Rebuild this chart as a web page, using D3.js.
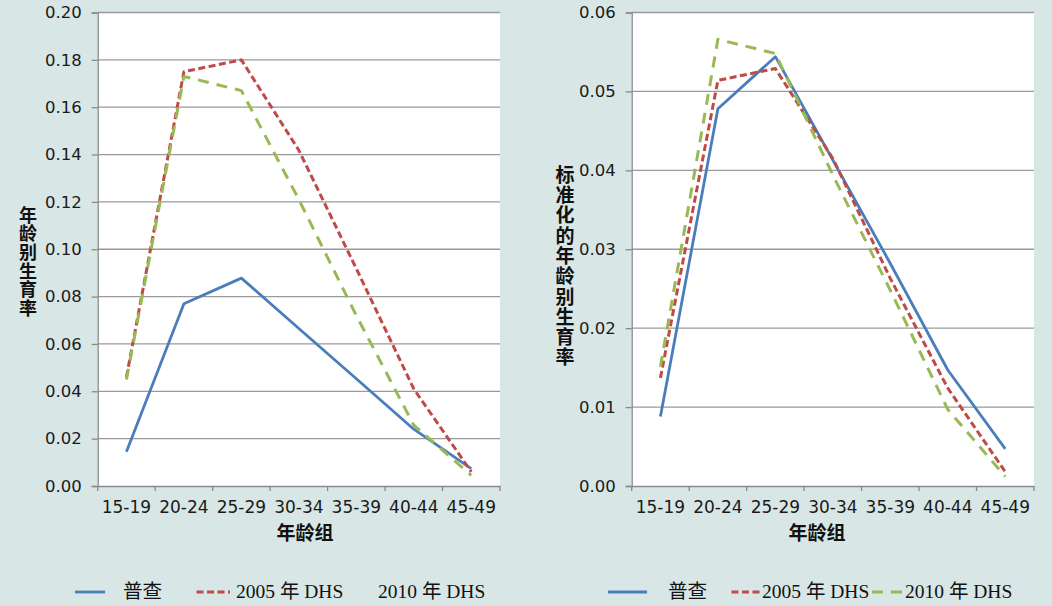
<!DOCTYPE html>
<html>
<head>
<meta charset="utf-8">
<script src="https://cdn.jsdelivr.net/npm/d3@7"></script>
<style>
  html, body { margin: 0; padding: 0; background: #d8e6e6; }
  svg { display: block; }
</style>
</head>
<body>
<svg id="chart" width="1052" height="606"></svg>
<script>
// age groups on the x axis
var age_groups = ['15-19', '20-24', '25-29', '30-34', '35-39', '40-44', '45-49'];
var series_names = ['普查', '2005 年 DHS', '2010 年 DHS'];

// left chart: age specific fertility rate
var asfr_census = [0.0145, 0.077, 0.0878, 0.0665, 0.0453, 0.024, 0.0073];
var asfr_dhs2005 = [0.046, 0.175, 0.180, 0.1418, 0.0918, 0.041, 0.006];
var asfr_dhs2010 = [0.045, 0.173, 0.167, 0.121, 0.072, 0.0257, 0.0045];
var left_ticks = [0, 0.02, 0.04, 0.06, 0.08, 0.10, 0.12, 0.14, 0.16, 0.18, 0.20];

// right chart: standardized age specific fertility rate
var std_census = [0.0088, 0.0478, 0.0544, 0.0413, 0.0282, 0.0147, 0.0047];
var std_dhs2005 = [0.0137, 0.0514, 0.0529, 0.0415, 0.0263, 0.0124, 0.0018];
var std_dhs2010 = [0.0151, 0.0566, 0.0548, 0.0394, 0.0248, 0.0097, 0.0012];
var right_ticks = [0, 0.01, 0.02, 0.03, 0.04, 0.05, 0.06];

var line_styles = [
    { color: '#4a7ebb', width: 2.8, dash: null },
    { color: '#be4b48', width: 3, dash: '7,3.5' },
    { color: '#98b954', width: 3, dash: '11,8' }
];

var svg = d3.select('#chart');

function drawChart(opts) {
    var g = svg.append('g');

    var x = d3.scaleBand().domain(age_groups).range([opts.left, opts.right]).padding(0);
    var y = d3.scaleLinear().domain([0, opts.ymax]).range([opts.bottom, opts.top]);

    // plot area
    g.append('rect')
        .attr('x', opts.left).attr('y', opts.top)
        .attr('width', opts.right - opts.left).attr('height', opts.bottom - opts.top)
        .attr('fill', '#ffffff');

    // gridlines
    g.selectAll('line.grid').data(opts.ticks.slice(1)).enter().append('line')
        .attr('class', 'grid')
        .attr('x1', opts.left).attr('x2', opts.right)
        .attr('y1', function(d) { return y(d); }).attr('y2', function(d) { return y(d); })
        .attr('stroke', '#9a9a9a').attr('stroke-width', 1.3);

    // y axis
    var yAxis = d3.axisLeft(y).tickValues(opts.ticks).tickFormat(d3.format('.2f')).tickSize(6).tickPadding(10);
    var ya = g.append('g').attr('transform', 'translate(' + opts.left + ',0)').call(yAxis);
    ya.select('.domain').attr('stroke', '#8a8a8a').attr('stroke-width', 1.3);
    ya.selectAll('.tick line').attr('stroke', '#8a8a8a').attr('stroke-width', 1.3);
    ya.selectAll('.tick text')
        .attr('fill', '#1a1a1a')
        .style('font-family', '"DejaVu Sans", Verdana, sans-serif')
        .style('font-size', '16.5px');

    // x axis: labels centred in each band, ticks on the band edges
    var xAxis = d3.axisBottom(x).tickSize(0).tickPadding(0);
    var xa = g.append('g').attr('transform', 'translate(0,' + opts.bottom + ')').call(xAxis);
    xa.select('.domain').attr('stroke', '#8a8a8a').attr('stroke-width', 1.3);
    xa.selectAll('.tick text')
        .attr('y', 26.5).attr('dy', null)
        .attr('fill', '#1a1a1a')
        .style('font-family', '"DejaVu Sans", Verdana, sans-serif')
        .style('font-size', '17px');
    var edges = age_groups.map(function(c) { return x(c); }).concat([opts.right]);
    xa.selectAll('line.edge').data(edges).enter().append('line')
        .attr('class', 'edge')
        .attr('x1', function(d) { return d; }).attr('x2', function(d) { return d; })
        .attr('y1', 0).attr('y2', 5)
        .attr('stroke', '#8a8a8a').attr('stroke-width', 1.3);

    // series lines
    var line = d3.line()
        .x(function(d, i) { return x(age_groups[i]) + x.bandwidth() / 2; })
        .y(function(d) { return y(d); });

    opts.series.forEach(function(values, i) {
        var st = line_styles[i];
        g.append('path')
            .datum(values)
            .attr('d', line)
            .attr('fill', 'none')
            .attr('stroke', st.color)
            .attr('stroke-width', st.width)
            .attr('stroke-dasharray', st.dash)
            .attr('stroke-linejoin', 'round');
    });

    // axis titles
    g.append('text')
        .attr('x', opts.xTitleX).attr('y', 540)
        .attr('text-anchor', 'middle')
        .style('font-family', '"Noto Sans CJK SC", sans-serif')
        .style('font-weight', 'bold')
        .style('font-size', '19px')
        .attr('fill', '#111')
        .text('年龄组');

    // vertical title, one character per row
    g.append('text')
        .attr('x', opts.yTitleX)
        .attr('y', opts.yTitleTop)
        .style('writing-mode', 'vertical-rl')
        .style('text-orientation', 'upright')
        .style('letter-spacing', opts.yTitleGap + 'px')
        .style('font-family', '"Noto Sans CJK SC", sans-serif')
        .style('font-weight', 'bold')
        .style('font-size', opts.yTitleSize + 'px')
        .attr('fill', '#111')
        .text(opts.yTitle);

    // legend
    var lg = g.append('g');
    opts.legend.forEach(function(item, i) {
        var st = line_styles[i];
        if (item.lineFrom != null) {
            lg.append('line')
                .attr('x1', item.lineFrom).attr('x2', item.lineTo)
                .attr('y1', 592).attr('y2', 592)
                .attr('stroke', st.color)
                .attr('stroke-width', st.width)
                .attr('stroke-dasharray', st.dash);
        }
        lg.append('text')
            .attr('x', item.textX).attr('y', 598)
            .style('font-family', '"Liberation Serif", "Times New Roman", "Noto Sans CJK SC", serif')
            .style('font-size', '19.5px')
            .attr('fill', '#111')
            .text(series_names[i]);
    });
}

drawChart({
    left: 97.7, right: 500, top: 12.5, bottom: 486,
    ymax: 0.20, ticks: left_ticks,
    series: [asfr_census, asfr_dhs2005, asfr_dhs2010],
    xTitleX: 305,
    yTitle: '年龄别生育率', yTitleX: 28, yTitleTop: 206, yTitleGap: 0.6, yTitleSize: 18,
    legend: [
        { lineFrom: 75, lineTo: 105, textX: 123 },
        { lineFrom: 196.5, lineTo: 230, textX: 236 },
        { lineFrom: null, lineTo: null, textX: 378 }
    ]
});

drawChart({
    left: 631.7, right: 1034, top: 12.5, bottom: 486,
    ymax: 0.06, ticks: right_ticks,
    series: [std_census, std_dhs2005, std_dhs2010],
    xTitleX: 817,
    yTitle: '标准化的年龄别生育率', yTitleX: 565, yTitleTop: 165, yTitleGap: 1.3, yTitleSize: 19,
    legend: [
        { lineFrom: 608, lineTo: 647, textX: 668 },
        { lineFrom: 731.5, lineTo: 762, textX: 762 },
        { lineFrom: 872, lineTo: 905, textX: 905 }
    ]
});
</script>
</body>
</html>
